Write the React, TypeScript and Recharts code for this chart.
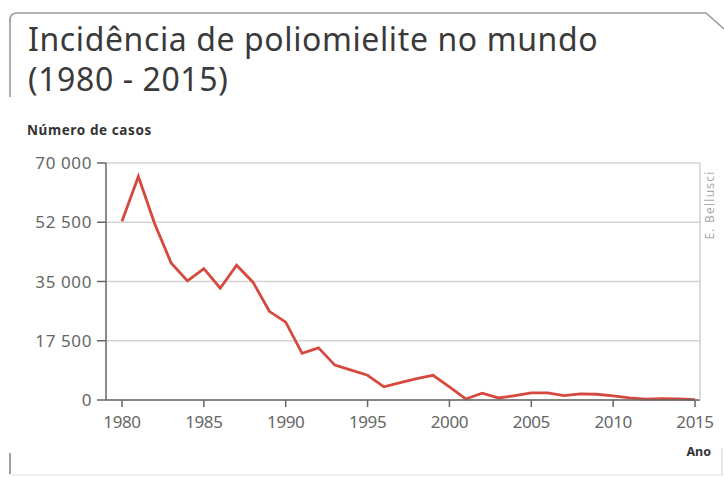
import React from "react";
import { LineChart, Line, XAxis, YAxis, CartesianGrid } from "recharts";

const years = [
  1980, 1981, 1982, 1983, 1984, 1985, 1986, 1987, 1988, 1989, 1990, 1991,
  1992, 1993, 1994, 1995, 1996, 1997, 1998, 1999, 2000, 2001, 2002, 2003,
  2004, 2005, 2006, 2007, 2008, 2009, 2010, 2011, 2012, 2013, 2014, 2015,
];
const cases = [
  52800, 66000, 52000, 40500, 35200, 38800, 33000, 39800, 34800, 26200,
  23000, 13800, 15400, 10300, 8800, 7300, 3900, 5100, 6300, 7300, 3900, 300,
  2000, 600, 1300, 2100, 2100, 1300, 1800, 1700, 1200, 650, 250, 400, 350,
  100,
];
const xTicks = [1980, 1985, 1990, 1995, 2000, 2005, 2010, 2015];
const yTicks = [0, 17500, 35000, 52500, 70000];

const data = years.map((year, i) => ({ year, cases: cases[i] }));

const FONT = "'Noto Sans', 'Open Sans', sans-serif";

const formatThousands = (v: number) =>
  v === 0 ? "0" : `${Math.floor(v / 1000)} ${String(v % 1000).padStart(3, "0")}`;

const xTickStyle = { fill: "#666", fontSize: 17, fontFamily: FONT, letterSpacing: -0.4 };
const yTickStyle = { fill: "#666", fontSize: 17, fontFamily: FONT, letterSpacing: 0.6 };

export default function App() {
  return (
    <div
      style={{
        position: "absolute",
        left: 0,
        top: 0,
        width: 724,
        height: 477,
        background: "#fff",
        fontFamily: FONT,
      }}
    >
      <LineChart
        width={724}
        height={477}
        data={data}
        margin={{ top: 163, right: 0, bottom: 45, left: 36 }}
      >
        <CartesianGrid vertical={false} stroke="#d4d4d4" strokeWidth={1.5} />
        <XAxis
          dataKey="year"
          type="number"
          domain={[1980, 2015]}
          ticks={xTicks}
          padding={{ left: 16, right: 5 }}
          height={32}
          tickSize={7}
          tickMargin={9}
          axisLine={{ stroke: "#666", strokeWidth: 1.5 }}
          tickLine={{ stroke: "#666", strokeWidth: 1.5 }}
          tick={xTickStyle}
        />
        <YAxis
          domain={[0, 70000]}
          ticks={yTicks}
          width={70}
          tickSize={9}
          tickMargin={5}
          tickFormatter={formatThousands}
          axisLine={{ stroke: "#666", strokeWidth: 1.5 }}
          tickLine={{ stroke: "#666", strokeWidth: 1.5 }}
          tick={yTickStyle}
        />
        <YAxis
          yAxisId="frame"
          orientation="right"
          domain={[0, 70000]}
          width={24}
          tick={false}
          tickLine={false}
          axisLine={{ stroke: "#cfcfcf", strokeWidth: 1.5 }}
        />
        <Line
          type="linear"
          dataKey="cases"
          stroke="#d6493f"
          strokeWidth={2.8}
          dot={false}
          isAnimationActive={false}
        />
      </LineChart>
      <svg
        width={724}
        height={477}
        style={{ position: "absolute", left: 0, top: 0, pointerEvents: "none" }}
      >
        {/* panel frame */}
        <path
          d="M10,97 L10,20 Q10,13 17,13 L706,13 L724,29"
          fill="none"
          stroke="#9a9a9a"
          strokeWidth={1.6}
        />
        <line x1={10} y1={453} x2={10} y2={474} stroke="#8a8a8a" strokeWidth={1.6} />
        <line x1={10} y1={475} x2={722} y2={475} stroke="#e2e2e2" strokeWidth={1.2} />
        <line x1={722} y1={448} x2={722} y2={475} stroke="#d8d8d8" strokeWidth={1.2} />

        <text x={28} y={51} fontSize={32} letterSpacing={0.6} fill="#3a3a3a" fontFamily={FONT}>
          Incidência de poliomielite no mundo
        </text>
        <text x={28} y={91} fontSize={32} letterSpacing={0.6} fill="#3a3a3a" fontFamily={FONT}>
          (1980 - 2015)
        </text>
        <text
          x={27}
          y={135}
          fontSize={13.5}
          fontWeight="bold"
          letterSpacing={0.6}
          fill="#333"
          fontFamily={FONT}
        >
          Número de casos
        </text>
        <text
          x={711}
          y={456}
          fontSize={12.5}
          fontWeight="bold"
          fill="#333"
          textAnchor="end"
          fontFamily={FONT}
        >
          Ano
        </text>
        <text
          transform="translate(714,205) rotate(-90)"
          fontSize={12}
          letterSpacing={1.2}
          fill="#aaa"
          textAnchor="middle"
          fontFamily={FONT}
        >
          E. Bellusci
        </text>
      </svg>
    </div>
  );
}
